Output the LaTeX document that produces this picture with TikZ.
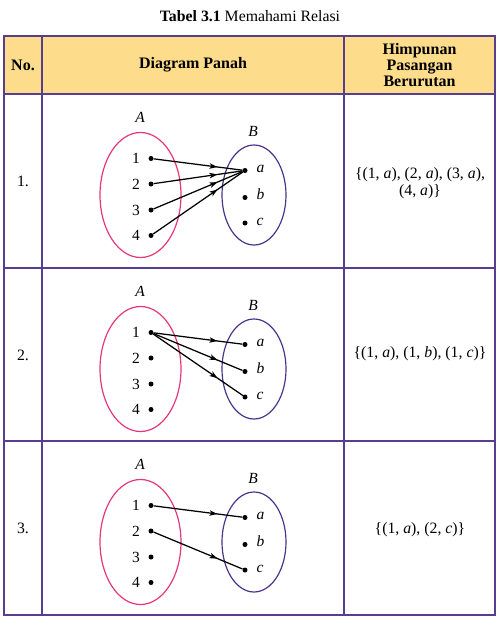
\documentclass[tikz,border=0pt]{standalone}
\usepackage{fontspec}
\setmainfont{Liberation Serif}
\usetikzlibrary{arrows.meta,decorations.markings,shapes.geometric}
\definecolor{tableline}{RGB}{88,62,145}
\definecolor{headfill}{RGB}{253,221,140}
\definecolor{setA}{RGB}{230,55,120}
\definecolor{setB}{RGB}{72,52,140}
\begin{document}
\begin{tikzpicture}[x=1pt,y=-1pt,
  txt/.style={font=\fontsize{15.8}{16.5}\selectfont, inner sep=0pt},
  head/.style={font=\fontsize{16}{16}\selectfont\bfseries, inner sep=0pt, align=center},
  lbl/.style={font=\fontsize{15.5}{16}\selectfont, inner sep=0pt},
  dotnode/.style={circle, fill=black, inner sep=0pt, minimum size=5pt},
  ellA/.style={ellipse, draw=setA, line width=1.2pt, minimum width=81pt, minimum height=125pt, inner sep=0pt},
  ellB/.style={ellipse, draw=setB, line width=1.2pt, minimum width=64pt, minimum height=100pt, inner sep=0pt},
  arr/.style={line width=1.25pt, postaction={decorate}, decoration={markings, mark=at position 0.72 with {\arrow{Stealth[length=8pt,width=5.5pt,inset=2pt]}}}},
  gridline/.style={draw=tableline, line width=2.2pt}]
\useasboundingbox (0,0) rectangle (499,619);
% title
\node[txt] (title) at (250,16) {\textbf{Tabel 3.1} Memahami Relasi};
% table
\fill[headfill] (4,36) rectangle (495,94);
\draw[gridline] (4,36) rectangle (495,615);
\draw[gridline] (4,94) -- (495,94);
\draw[gridline] (4,268) -- (495,268);
\draw[gridline] (4,441) -- (495,441);
\draw[gridline] (42,36) -- (42,615);
\draw[gridline] (344,36) -- (344,615);
% header
\node[head] (hno) at (23,65) {No.};
\node[head] (hdiag) at (193,65) {Diagram Panah};
\node[head] (hpair) at (419.5,65.5) {Himpunan\\Pasangan\\Berurutan};
% rows
\foreach \r/\T in {1/94,2/268,3/441} {
  \node[txt] (no\r) at (23,\T+87) {\r.};
  \node[ellA] (EA\r) at (140.5,\T+101) {};
  \node[ellB] (EB\r) at (254,\T+101) {};
  \node[lbl, font=\fontsize{15.5}{16}\selectfont\itshape] (LA\r) at (140,\T+23) {A};
  \node[lbl, font=\fontsize{15.5}{16}\selectfont\itshape] (LB\r) at (253,\T+37) {B};
  \foreach \i/\dy in {1/64.5,2/90,3/116,4/141.5} {
    \node[dotnode] (a\r\i) at (151,\T+\dy) {};
    \node[lbl, anchor=east] (na\r\i) at (140,\T+\dy) {\i};
  }
  \foreach \j/\dy in {a/76.5,b/103.5,c/129} {
    \node[dotnode] (b\r\j) at (245,\T+\dy) {};
    \node[lbl, anchor=mid west] (nb\r\j) at (256.5,\T+\dy) {\textit{\j}};
  }
}
% arrows
\draw[arr] (a11) -- (b1a);
\draw[arr] (a12) -- (b1a);
\draw[arr] (a13) -- (b1a);
\draw[arr] (a14) -- (b1a);
\draw[arr] (a21) -- (b2a);
\draw[arr] (a21) -- (b2b);
\draw[arr] (a21) -- (b2c);
\draw[arr] (a31) -- (b3a);
\draw[arr] (a32) -- (b3c);
% ordered pairs
\node[txt, align=center] (p1) at (420,183) {\{(1, \textit{a}), (2, \textit{a}), (3, \textit{a}),\\(4, \textit{a})\}};
\node[txt] (p2) at (420,354) {\{(1, \textit{a}), (1, \textit{b}), (1, \textit{c})\}};
\node[txt] (p3) at (420,530) {\{(1, \textit{a}), (2, \textit{c})\}};
\end{tikzpicture}
\end{document}
